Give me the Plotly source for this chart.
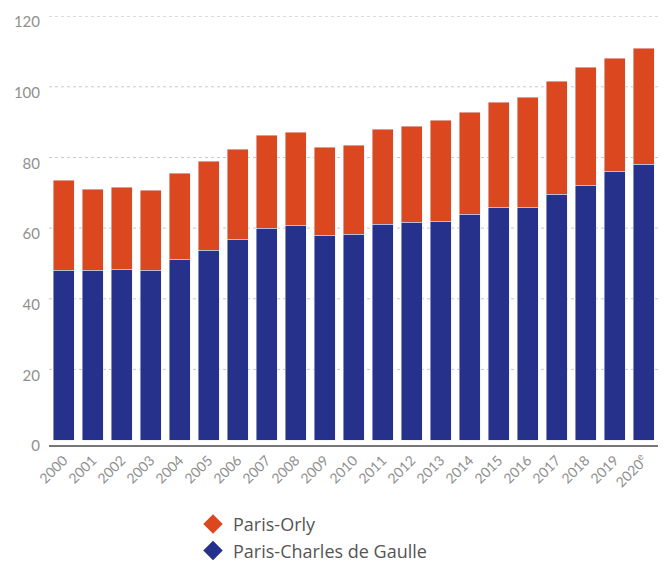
import plotly.graph_objects as go

# Passenger traffic (millions) at the two Paris airports
years = [str(y) for y in range(2000, 2021)]
year_labels = years[:-1] + ["2020<sup>e</sup>"]
cdg = [48.1, 48.1, 48.4, 48.1, 51.2, 53.7, 56.9, 60.0, 60.8, 58.0, 58.3,
       61.1, 61.7, 62.0, 63.9, 65.9, 65.9, 69.6, 72.1, 76.1, 78.1]
total = [73.6, 71.0, 71.6, 70.7, 75.5, 78.9, 82.3, 86.3, 87.1, 82.9, 83.5,
         88.0, 88.8, 90.5, 92.8, 95.6, 97.0, 101.6, 105.5, 108.1, 110.9]
orly = [round(t - c, 1) for t, c in zip(total, cdg)]
y_ticks = [0, 20, 40, 60, 80, 100, 120]

ORANGE = "#DB471F"
BLUE = "#25318A"
FONT = "Lato"

fig = go.Figure()
fig.add_trace(go.Bar(x=years, y=cdg, marker_color=BLUE, showlegend=False,
                     name="Paris-Charles de Gaulle"))
fig.add_trace(go.Bar(x=years, y=orly, marker_color=ORANGE, showlegend=False,
                     name="Paris-Orly"))

# legend entries with diamond symbols
fig.add_trace(go.Scatter(x=[None], y=[None], mode="markers", name="Paris-Orly",
                         marker=dict(symbol="diamond", size=15, color=ORANGE)))
fig.add_trace(go.Scatter(x=[None], y=[None], mode="markers",
                         name="Paris-Charles de Gaulle",
                         marker=dict(symbol="diamond", size=15, color=BLUE)))

# dotted horizontal grid lines
for v in y_ticks[1:]:
    fig.add_shape(type="line", xref="paper", x0=0, x1=1, yref="y", y0=v, y1=v,
                  line=dict(color="#c8c8c8", width=1, dash="dot"), layer="below")

fig.update_layout(
    width=666, height=563,
    margin=dict(l=49, r=8, t=16, b=118, autoexpand=False),
    barmode="stack", bargap=0.276,
    plot_bgcolor="white", paper_bgcolor="white",
    font=dict(family=FONT, color="#909090"),
    legend=dict(x=0.2365, y=-0.142, xanchor="left", yanchor="top",
                traceorder="normal",
                font=dict(family="Open Sans", size=18, color="#555555"),
                tracegroupgap=0, itemwidth=30),
    xaxis=dict(tickmode="array", tickvals=years, ticktext=year_labels,
               tickangle=-45, tickfont=dict(size=14, color="#909090"),
               showline=True, linecolor="#777777", linewidth=1.5,
               showgrid=False, ticks="", automargin=False),
    yaxis=dict(range=[-1.4, 120.05], tickvals=y_ticks,
               tickfont=dict(size=15, color="#909090"),
               showgrid=False, zeroline=False, ticks="", automargin=False,
               ticklabelshift=6, ticklabelstandoff=8),
)

fig.write_html("out.html")
